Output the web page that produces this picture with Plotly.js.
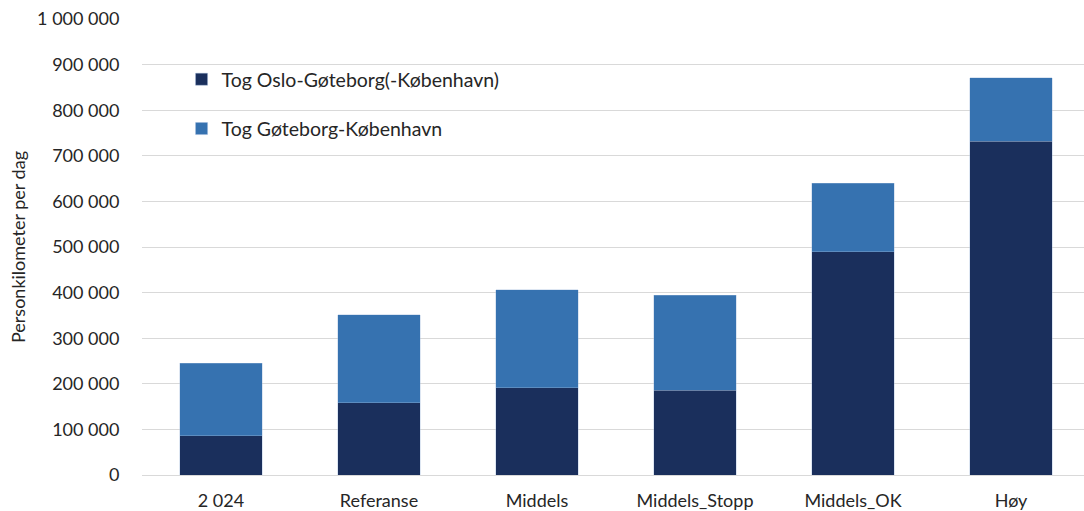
<!DOCTYPE html>
<html>
<head>
<meta charset="utf-8">
<script src="https://cdn.plot.ly/plotly-3.0.1.min.js"></script>
<style>html,body{margin:0;padding:0;background:#fff;}#chart{width:1084px;height:511px;}</style>
</head>
<body>
<div id="chart"></div>
<script>
const categories = ["2 024", "Referanse", "Middels", "Middels_Stopp", "Middels_OK", "Høy"];
const osloGoteborg = [86000, 159000, 191000, 186000, 490000, 732000];
const goteborgKobenhavn = [159000, 192000, 215000, 208000, 150000, 139000];
const seriesNames = ["Tog Oslo-Gøteborg(-København)", "Tog Gøteborg-København"];
const yTicks = [0, 100000, 200000, 300000, 400000, 500000, 600000, 700000, 800000, 900000, 1000000];

const font = "Lato, 'Open Sans', sans-serif";
const xIdx = categories.map((c, i) => i);

const traces = [
  {type: "bar", x: xIdx, y: osloGoteborg, name: seriesNames[0], legendgroup: "a",
   width: 0.525, marker: {color: "#1a2f5c", line: {color: "rgba(160,185,220,0.6)", width: 0.6}}, hoverinfo: "y"},
  {type: "bar", x: xIdx, y: goteborgKobenhavn, name: seriesNames[1], legendgroup: "b",
   width: 0.525, marker: {color: "#3672b0", line: {color: "rgba(160,185,220,0.6)", width: 0.6}}, hoverinfo: "y"}
];

const layout = {
  width: 1084, height: 511,
  margin: {l: 142, r: 0, t: 19, b: 36},
  paper_bgcolor: "#fff", plot_bgcolor: "#fff",
  barmode: "stack",
  separators: ", ",
  font: {family: font, size: 18, color: "#262626"},
  showlegend: true,
  legend: {x: 0.042, y: 0.91, xanchor: "left", yanchor: "top", traceorder: "grouped",
           tracegroupgap: 21, bgcolor: "rgba(0,0,0,0)", font: {size: 19.5, color: "#262626"}},
  xaxis: {type: "linear", range: [-0.5, 5.462], tickmode: "array", tickvals: xIdx, ticktext: categories,
          showgrid: false, zeroline: false, showline: false, ticks: "outside", ticklen: 9,
          tickcolor: "rgba(0,0,0,0)", tickfont: {size: 18, color: "#262626"}, fixedrange: true},
  yaxis: {range: [0, 1000000], tickmode: "array", tickvals: yTicks, tickformat: ",d",
          showgrid: true, gridcolor: "#d9d9d9", gridwidth: 1, zeroline: true, zerolinecolor: "#d9d9d9",
          zerolinewidth: 1, ticks: "outside", ticklen: 18, tickcolor: "rgba(0,0,0,0)",
          tickfont: {size: 18, color: "#262626"}, fixedrange: true},
  annotations: [{text: "Personkilometer per dag", xref: "paper", yref: "paper",
                 x: -124 / 942, y: 0.5, xanchor: "center", yanchor: "middle", textangle: -90,
                 showarrow: false, font: {size: 18, color: "#262626"}}]
};

Plotly.newPlot("chart", traces, layout, {displayModeBar: false, staticPlot: true});
</script>
</body>
</html>
